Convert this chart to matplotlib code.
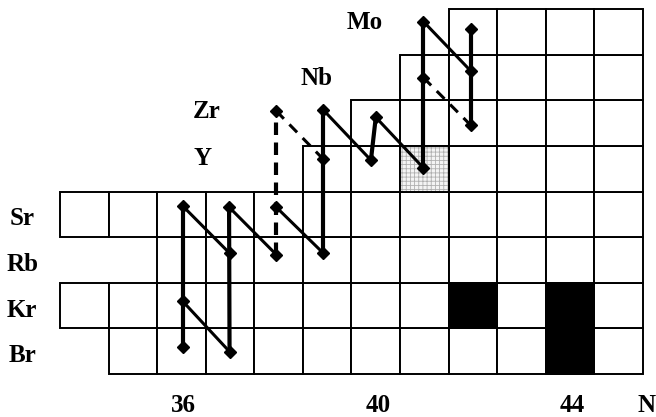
import matplotlib
matplotlib.use("Agg")
import matplotlib.pyplot as plt
from matplotlib.patches import Rectangle

# ---- data -------------------------------------------------------------
elements = ["Br", "Kr", "Rb", "Sr", "Y", "Zr", "Nb", "Mo"]
z_values = [35, 36, 37, 38, 39, 40, 41, 42]
row_n_first = [35, 34, 36, 34, 39, 40, 41, 42]
row_n_last = [45, 45, 45, 45, 45, 45, 45, 45]

black_cells_n = [42, 44, 44]
black_cells_z = [36, 36, 35]
gray_cells_n = [41]
gray_cells_z = [39]

n_tick_values = [36, 40, 44]
n_tick_labels = ["36", "40", "44"]

# path nodes (N, Z)
marker_n = [36.03, 36.03, 36.03, 36.98, 36.99, 36.99, 37.95, 37.95, 37.95,
            38.92, 38.92, 38.92, 40.00, 39.90, 40.98, 40.98, 40.98,
            41.96, 41.96, 41.96]
marker_z = [38.18, 36.09, 35.10, 38.16, 37.15, 34.99, 40.27, 38.16, 37.12,
            40.29, 39.21, 37.15, 40.13, 39.19, 42.23, 41.00, 39.02,
            42.07, 41.14, 39.95]

# vertical links
vertical_solid = [
    ([36.03, 36.03], [35.10, 38.18]),
    ([36.99, 36.98], [34.99, 38.16]),
    ([38.92, 38.92], [37.15, 40.29]),
    ([39.90, 40.00], [39.19, 40.13]),
    ([40.98, 40.98], [39.02, 42.23]),
    ([41.96, 41.96], [39.95, 42.07]),
]
vertical_dashed = [
    ([37.95, 37.95], [37.12, 40.27]),
]
# diagonal links
diagonal_solid = [
    ([36.03, 36.99], [38.18, 37.15]),
    ([36.03, 36.99], [36.09, 34.99]),
    ([36.98, 37.95], [38.16, 37.12]),
    ([37.95, 38.92], [38.16, 37.15]),
    ([38.92, 39.90], [40.29, 39.19]),
    ([40.00, 40.98], [40.13, 39.02]),
    ([40.98, 41.96], [42.23, 41.14]),
]
diagonal_dashed = [
    ([37.95, 38.92], [40.27, 39.21]),
    ([40.98, 41.96], [41.00, 39.95]),
]

# ---- figure -------------------------------------------------------------
plt.rcParams["hatch.linewidth"] = 0.6
fig = plt.figure(figsize=(6.56, 4.17), dpi=100)
ax = fig.add_axes([0, 0, 1, 1])
ax.set_xlim(32.265, 45.768)
ax.set_ylim(33.557, 42.702)
ax.axis("off")

font = dict(family="Liberation Serif", weight="bold", size=18)

# cells
for z, n0, n1 in zip(z_values, row_n_first, row_n_last):
    for n in range(n0, n1 + 1):
        ax.add_patch(Rectangle((n - 0.5, z - 0.5), 1, 1, facecolor="white",
                               edgecolor="black", linewidth=1.4, zorder=1))

for n, z in zip(gray_cells_n, gray_cells_z):
    ax.add_patch(Rectangle((n - 0.5, z - 0.5), 1, 1, facecolor="#f4f4f4",
                           edgecolor="#b0b0b0", linewidth=0, hatch="++++",
                           zorder=1.5))
    ax.add_patch(Rectangle((n - 0.5, z - 0.5), 1, 1, facecolor="none",
                           edgecolor="black", linewidth=1.4, zorder=1.6))

for n, z in zip(black_cells_n, black_cells_z):
    ax.add_patch(Rectangle((n - 0.5, z - 0.5), 1, 1, facecolor="black",
                           edgecolor="black", linewidth=1.4, zorder=1.5))

# links
for xs, ys in vertical_solid:
    ax.plot(xs, ys, color="black", lw=3.0, solid_capstyle="butt", zorder=3)
for xs, ys in vertical_dashed:
    ax.plot(xs, ys, color="black", lw=3.0, linestyle=(0, (3.0, 1.8)),
            dash_capstyle="butt", zorder=3)
for xs, ys in diagonal_solid:
    ax.plot(xs, ys, color="black", lw=2.2, solid_capstyle="butt", zorder=3)
for xs, ys in diagonal_dashed:
    ax.plot(xs, ys, color="black", lw=2.2, linestyle=(0, (3.6, 2.6)),
            dash_capstyle="butt", zorder=3)

ax.plot(marker_n, marker_z, linestyle="none", marker="D", markersize=6,
        color="black", zorder=4)

# element labels (left side)
for el, z in zip(elements[:4], z_values[:4]):
    ax.text(32.72, z - 0.24, el, ha="center", va="baseline", **font)

# element labels (upper part)
ax.text(36.24, 39.08, elements[4], ha="left", va="baseline", **font)
ax.text(36.24, 40.11, elements[5], ha="left", va="baseline", **font)
ax.text(38.78, 40.84, elements[6], ha="center", va="baseline", **font)
ax.text(39.78, 42.07, elements[7], ha="center", va="baseline", **font)

# N axis labels
for v, lab in zip(n_tick_values, n_tick_labels):
    ax.text(v + 0.05, 33.67, lab, ha="center", va="baseline", **font)
ax.text(45.58, 33.67, "N", ha="center", va="baseline", **font)

fig.savefig("out.png", dpi=100)
